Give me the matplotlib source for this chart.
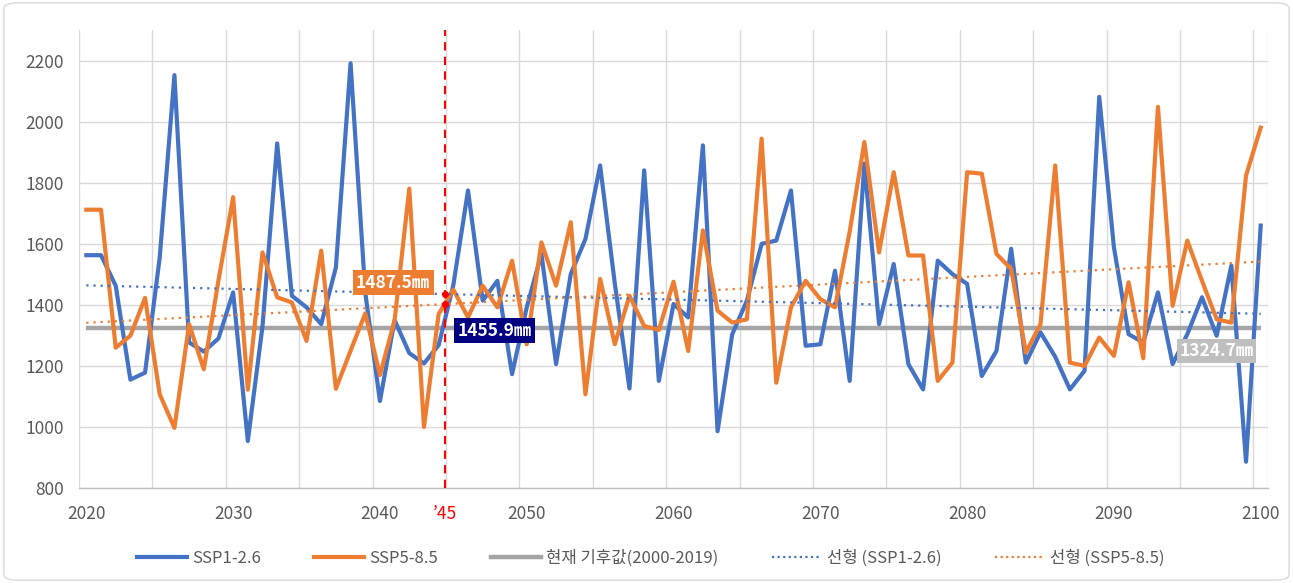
import numpy as np
import matplotlib
matplotlib.use("Agg")
import matplotlib.pyplot as plt
from matplotlib.lines import Line2D
from matplotlib.patches import FancyBboxPatch

plt.rcParams['font.family'] = ['Noto Sans CJK KR', 'DejaVu Sans']

years = list(range(2020, 2101))

ssp126 = [1563, 1563, 1463, 1155, 1178, 1556, 2153, 1277, 1247, 1290,
          1441, 954, 1330, 1929, 1430, 1392, 1337, 1523, 2192, 1440,
          1085, 1350, 1242, 1208, 1268, 1465, 1775, 1414, 1479, 1173,
          1392, 1567, 1206, 1501, 1616, 1857, 1470, 1126, 1841, 1151,
          1403, 1359, 1923, 986, 1304, 1414, 1600, 1611, 1775, 1266,
          1271, 1512, 1151, 1863, 1337, 1534, 1206, 1123, 1545, 1501,
          1469, 1167, 1249, 1584, 1211, 1310, 1230, 1123, 1184, 2082,
          1589, 1304, 1277, 1441, 1206, 1304, 1425, 1299, 1529, 886,
          1660]

ssp585 = [1712, 1712, 1260, 1299, 1423, 1107, 997, 1337, 1189, 1480,
          1753, 1122, 1572, 1425, 1408, 1282, 1578, 1125, 1250, 1372,
          1170, 1350, 1781, 1000, 1370, 1450, 1359, 1463, 1392, 1545,
          1271, 1605, 1463, 1671, 1107, 1485, 1271, 1430, 1331, 1318,
          1476, 1249, 1644, 1381, 1342, 1353, 1945, 1145, 1392, 1479,
          1419, 1392, 1640, 1934, 1572, 1835, 1562, 1562, 1151, 1211,
          1835, 1830, 1567, 1518, 1244, 1337, 1857, 1211, 1200, 1293,
          1233, 1474, 1225, 2049, 1397, 1611, 1479, 1353, 1342, 1824,
          1981]

baseline_value = 1324.7
marker_year = 2044.4
label_orange = "1487.5㎜"
label_navy = "1455.9㎜"
label_gray = "1324.7㎜"

legend_labels = ["SSP1-2.6", "SSP5-8.5", "현재 기후값(2000-2019)",
                 "선형 (SSP1-2.6)", "선형 (SSP5-8.5)"]
y_ticks = [800, 1000, 1200, 1400, 1600, 1800, 2000, 2200]
x_tick_years = [2020, 2030, 2040, 2050, 2060, 2070, 2080, 2090, 2100]

BLUE = "#4472C4"
ORANGE = "#ED7D31"
GRAY = "#A5A5A5"
TXT = "#595959"

x = np.array(years, dtype=float)
b = np.array(ssp126, dtype=float)
o = np.array(ssp585, dtype=float)

fig = plt.figure(figsize=(12.93, 5.83), dpi=100)
ax = fig.add_axes([0.0611, 0.163, 0.9196, 0.785])

# grid
for yt in y_ticks:
    ax.axhline(yt, color="#D9D9D9", lw=1.0, zorder=0)
for xv in np.arange(2019.5, 2101, 5):
    ax.axvline(xv, color="#D9D9D9", lw=1.0, zorder=0)
ax.axvline(2100.5, color="#D9D9D9", lw=1.0, zorder=0)

# baseline
ax.plot(x, np.full_like(x, baseline_value), color=GRAY, lw=3.2, zorder=2,
        solid_capstyle='butt')

# series
ax.plot(x, b, color=BLUE, lw=3.0, zorder=3, solid_joinstyle='round')
ax.plot(x, o, color=ORANGE, lw=3.0, zorder=4, solid_joinstyle='round')

# trendlines
pb = np.polyfit(x, b, 1)
po = np.polyfit(x, o, 1)
ax.plot(x, np.polyval(pb, x), color=BLUE, lw=1.6, ls=(0, (1, 2.2)), zorder=5)
ax.plot(x, np.polyval(po, x), color=ORANGE, lw=1.6, ls=(0, (1, 2.2)), zorder=5)

# marker line
ax.axvline(marker_year, color="red", lw=1.5, ls=(0, (4, 3)), zorder=6)
ax.plot([marker_year, marker_year],
        [np.polyval(pb, marker_year), np.polyval(po, marker_year)],
        'o', color="red", ms=4, zorder=7)

# annotation boxes
ax.text(2040.9, 1473, label_orange, color="white", fontsize=12.5, fontweight="bold",
        ha="center", va="center", zorder=8,
        bbox=dict(boxstyle="square,pad=0.2", fc=ORANGE, ec="none"))
ax.text(2047.8, 1315, label_navy, color="white", fontsize=12.5, fontweight="bold",
        ha="center", va="center", zorder=8,
        bbox=dict(boxstyle="square,pad=0.2", fc="#000080", ec="none"))
ax.text(2097.0, 1249, label_gray, color="white", fontsize=12.5, fontweight="bold",
        ha="center", va="center", zorder=8,
        bbox=dict(boxstyle="square,pad=0.15", fc="#BFBFBF", ec="none"))

ax.set_xlim(2019.5, 2100.5)
ax.set_ylim(800, 2300)
ax.set_yticks(y_ticks)
ax.set_yticklabels([str(v) for v in y_ticks], color=TXT, fontsize=12.5)
xt = x_tick_years[:3] + [marker_year] + x_tick_years[3:]
xl = [str(v) for v in x_tick_years[:3]] + ["’45"] + [str(v) for v in x_tick_years[3:]]
ax.set_xticks(xt)
ax.set_xticklabels(xl, fontsize=12.5, color=TXT)
for lab in ax.get_xticklabels():
    if lab.get_text() == "’45":
        lab.set_color("red")
ax.tick_params(axis='x', length=0, pad=12)
ax.tick_params(axis='y', length=0, pad=11)
for s in ["top", "right", "left"]:
    ax.spines[s].set_visible(False)
ax.spines["bottom"].set_color("#BFBFBF")
ax.spines["bottom"].set_linewidth(1.0)

handles = [
    Line2D([], [], color=BLUE, lw=3.0),
    Line2D([], [], color=ORANGE, lw=3.0),
    Line2D([], [], color=GRAY, lw=3.2),
    Line2D([], [], color=BLUE, lw=1.6, ls=(0, (1, 1.5))),
    Line2D([], [], color=ORANGE, lw=1.6, ls=(0, (1, 1.5))),
]
leg = fig.legend(handles, legend_labels, loc="center", bbox_to_anchor=(0.503, 0.043),
                 ncol=5, frameon=False, fontsize=12, handlelength=3.0,
                 columnspacing=3.2, handletextpad=0.3)
for t in leg.get_texts():
    t.set_color(TXT)

# outer border
border = FancyBboxPatch((0.003, 0.005), 0.994, 0.99, boxstyle="round,pad=0,rounding_size=0.01",
                        transform=fig.transFigure, fc="none", ec="#D9D9D9", lw=1.0)
fig.patches.append(border)

fig.savefig("out.png", dpi=100)
